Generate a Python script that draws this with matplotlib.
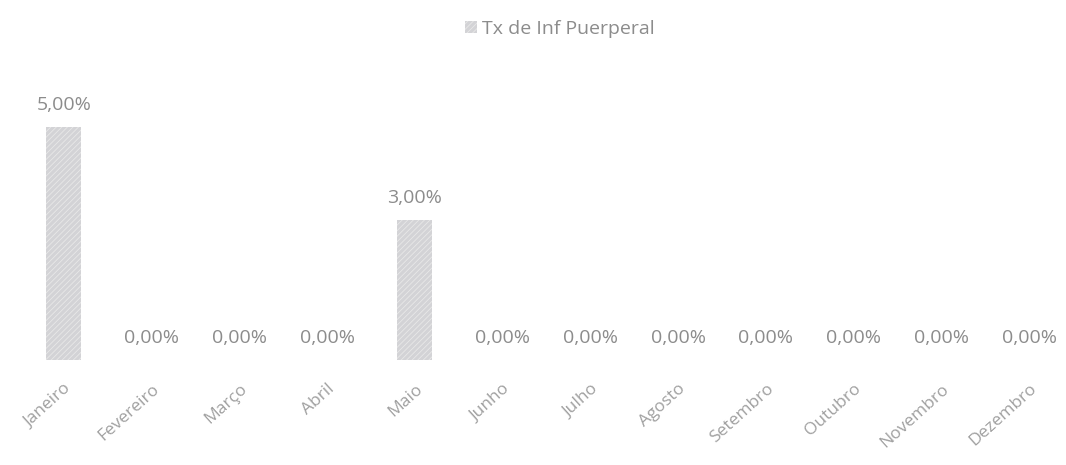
import matplotlib.pyplot as plt
from matplotlib.patches import Patch

months = ["Janeiro", "Fevereiro", "Março", "Abril", "Maio", "Junho",
          "Julho", "Agosto", "Setembro", "Outubro", "Novembro", "Dezembro"]
tx_inf = [5.00, 0.00, 0.00, 0.00, 3.00, 0.00, 0.00, 0.00, 0.00, 0.00, 0.00, 0.00]
series_name = "Tx de Inf Puerperal"

txt = "#8c8c8c"
plt.rcParams['font.family'] = ['Open Sans', 'DejaVu Sans']
plt.rcParams['hatch.color'] = '#e8e8e8'
plt.rcParams['hatch.linewidth'] = 0.6

fig = plt.figure(figsize=(10.66, 4.65), dpi=100)
ax = fig.add_axes([20/1066, 105/465, 1046/1066, 270/465])

x = list(range(len(months)))
bars = ax.bar(x, tx_inf, width=0.4, color="#d3d3d6", hatch="//////", linewidth=0)

for xi, v in zip(x, tx_inf):
    ax.annotate(f"{v:.2f}%".replace(".", ","), xy=(xi, v), xytext=(0, 16),
                textcoords="offset points", ha="center", va="center",
                fontsize=14, color=txt)

ax.set_xlim(-0.5, 11.42)
ax.set_ylim(0, 5.8)
ax.set_xticks(x)
ax.set_xticklabels(months, rotation=42, ha="right", rotation_mode="anchor",
                   fontsize=12.5, color="#a0a0a0")
ax.tick_params(axis="x", length=0, pad=15)
ax.set_yticks([])
for s in ax.spines.values():
    s.set_visible(False)

fig.legend(handles=[Patch(facecolor="#d3d3d6", hatch="//////", linewidth=0)],
           labels=[series_name], loc="center", bbox_to_anchor=(560/1066, 1 - 29/465),
           frameon=False, fontsize=14, labelcolor=txt, handlelength=0.6,
           handleheight=0.6, handletextpad=0.3)

plt.savefig("out.png")
